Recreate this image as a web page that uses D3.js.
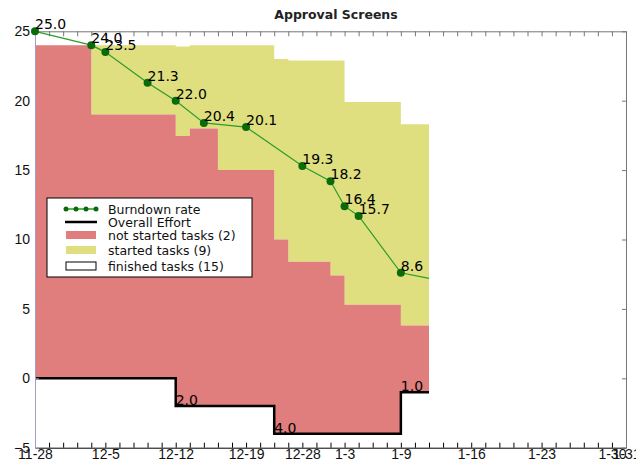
<!DOCTYPE html>
<html>
<head>
<meta charset="utf-8">
<script src="https://cdn.jsdelivr.net/npm/d3@7"></script>
<style>
  body { margin: 0; background: #fff; }
  svg { display: block; font-family: 'DejaVu Sans', Verdana, sans-serif; }
</style>
</head>
<body>
<svg id="chart" width="636" height="463"></svg>
<script>
// axis labels (working day index -> date label)
const xLabels = ['11-28', '12-5', '12-12', '12-19', '12-28', '1-3', '1-9', '1-16', '1-23', '1-30', '1-31']
const xLabelDays = [0, 5, 10, 15, 19, 22, 26, 31, 36, 41, 42]
const yTicks = [-5, 0, 5, 10, 15, 20, 25]

// stacked task areas, as steps
const stepDays = [0, 4, 10, 11, 13, 17, 18, 21, 22, 26, 28]
const effort = [0, 0, -2, -2, -2, -4, -4, -4, -4, -1, -1]
const notStarted = [24, 19, 19.45, 20, 17, 14, 12.4, 11.4, 9.3, 4.8, 4.8]
const started = [0, 5, 6.45, 6, 9, 13, 14.5, 15.5, 14.6, 14.5, 14.5]

// burndown rate
const burnDays = [0, 4, 5, 8, 10, 12, 15, 19, 21, 22, 23, 26]
const burnValues = [25.0, 24.0, 23.5, 21.3, 22.0, 20.4, 20.1, 19.3, 18.2, 16.4, 15.7, 8.6]
const burnEndDay = 28
const burnEndValue = 8.2

const legendItems = ['Burndown rate', 'Overall Effort', 'not started tasks (2)', 'started tasks (9)', 'finished tasks (15)']

const colors = {
  red: '#e07d7d',
  yellow: '#dfdf80',
  line: '#2a9d2a',
  marker: '#0b6b0b'
}

const svg = d3.select('#chart')
const x = d3.scaleLinear().domain([0, 42]).range([35, 626])
const y = d3.scaleLinear().domain([-5, 25]).range([447.7, 31.3])

const effortAt = day => effort[d3.bisectRight(stepDays, day) - 1]

const steps = stepDays.map((d, i) => ({
  day: d, e: effort[i], ns: notStarted[i], st: started[i]
}))

const redArea = d3.area().curve(d3.curveStepAfter)
  .x(d => x(d.day)).y0(d => y(d.e)).y1(d => y(d.e + d.ns))
const yellowArea = d3.area().curve(d3.curveStepAfter)
  .x(d => x(d.day)).y0(d => y(d.e + d.ns)).y1(d => y(d.e + d.ns + d.st))
const effortLine = d3.line().curve(d3.curveStepAfter)
  .x(d => x(d.day)).y(d => y(d.e))

svg.append('path').datum(steps).attr('d', yellowArea).attr('fill', colors.yellow)
svg.append('path').datum(steps).attr('d', redArea).attr('fill', colors.red)

// overall effort
svg.append('path').datum(steps).attr('d', effortLine)
  .attr('fill', 'none').attr('stroke', '#000').attr('stroke-width', 2.5)

const effortChanges = steps.filter((d, i) => i > 0 && d.e !== steps[i - 1].e)
svg.selectAll('.effortLabel').data(effortChanges).enter().append('text')
  .attr('x', d => x(d.day))
  .attr('y', d => y(d.e) - 1)
  .attr('font-size', 14)
  .attr('fill', '#000')
  .text(d => (-d.e).toFixed(1))

// axes
function inwardAxis (g, axis, color) {
  g.call(axis)
  g.select('.domain').attr('stroke', color)
  g.selectAll('.tick line').attr('stroke', color)
  g.selectAll('.tick text').attr('fill', '#111').attr('font-size', 14)
}

const allDays = d3.range(0, 43)
const xBottom = d3.axisBottom(x).tickValues(allDays).tickSize(-5).tickSizeOuter(0)
  .tickFormat(d => { const i = xLabelDays.indexOf(d); return i < 0 ? '' : xLabels[i] })
svg.append('g').attr('transform', `translate(0,${y(-5)})`)
  .call(g => inwardAxis(g, xBottom, '#000'))
  .call(g => g.selectAll('.tick text').attr('y', 1).attr('dy', '0.75em'))

const xTop = d3.axisTop(x).tickValues(allDays).tickSize(-5).tickSizeOuter(0).tickFormat('')
svg.append('g').attr('transform', `translate(0,${y(25)})`)
  .call(g => inwardAxis(g, xTop, '#777'))

const yLeft = d3.axisLeft(y).tickValues(yTicks).tickSize(-4).tickSizeOuter(0).tickFormat(d3.format('d'))
svg.append('g').attr('transform', `translate(${x(0)},0)`)
  .call(g => inwardAxis(g, yLeft, '#a898c4'))
  .call(g => g.selectAll('.tick text').attr('x', -5))

const yRight = d3.axisRight(y).tickValues(yTicks).tickSize(-4).tickSizeOuter(0).tickFormat('')
svg.append('g').attr('transform', `translate(${x(42)},0)`)
  .call(g => inwardAxis(g, yRight, '#777'))

// burndown rate
const burnPoints = burnDays.map((d, i) => ({ day: d, v: burnValues[i] }))
const burnLine = d3.line().x(d => x(d.day)).y(d => y(d.v + effortAt(d.day)))
svg.append('path')
  .datum(burnPoints.concat([{ day: burnEndDay, v: burnEndValue }]))
  .attr('d', burnLine)
  .attr('fill', 'none').attr('stroke', colors.line).attr('stroke-width', 1.2)

svg.selectAll('.burnDot').data(burnPoints).enter().append('circle')
  .attr('cx', d => x(d.day)).attr('cy', d => y(d.v + effortAt(d.day)))
  .attr('r', 4).attr('fill', colors.marker)

svg.selectAll('.burnLabel').data(burnPoints).enter().append('text')
  .attr('x', d => x(d.day))
  .attr('y', d => y(d.v + effortAt(d.day)) - 2)
  .attr('font-size', 14)
  .attr('fill', '#000')
  .text(d => d.v.toFixed(1))

// title
svg.append('text').attr('x', 336).attr('y', 19)
  .attr('text-anchor', 'middle').attr('font-size', 12.5).attr('font-weight', 'bold')
  .attr('fill', '#222').text('Approval Screens')

// legend
const legend = svg.append('g').attr('transform', 'translate(47,198)')
legend.append('rect').attr('width', 205).attr('height', 79)
  .attr('fill', '#fff').attr('stroke', '#000').attr('stroke-width', 1)
const rowY = [11, 24, 37, 52, 68]
legendItems.forEach((label, i) => {
  const g = legend.append('g').attr('transform', `translate(0,${rowY[i]})`)
  if (i === 0) {
    g.append('line').attr('x1', 18).attr('x2', 50).attr('stroke', colors.line).attr('stroke-width', 1.5)
    g.selectAll('circle').data([19, 29, 39, 49]).enter().append('circle')
      .attr('cx', d => d).attr('r', 2.5).attr('fill', colors.marker)
  } else if (i === 1) {
    g.append('line').attr('x1', 18).attr('x2', 50).attr('stroke', '#000').attr('stroke-width', 2.5)
  } else {
    g.append('rect').attr('x', 19).attr('y', -4).attr('width', 30).attr('height', 8)
      .attr('fill', i === 2 ? colors.red : i === 3 ? colors.yellow : '#fff')
      .attr('stroke', i === 4 ? '#000' : 'none')
  }
  g.append('text').attr('x', 61).attr('y', 4.5).attr('font-size', 12.5)
    .attr('fill', '#111').text(label)
})
</script>
</body>
</html>
